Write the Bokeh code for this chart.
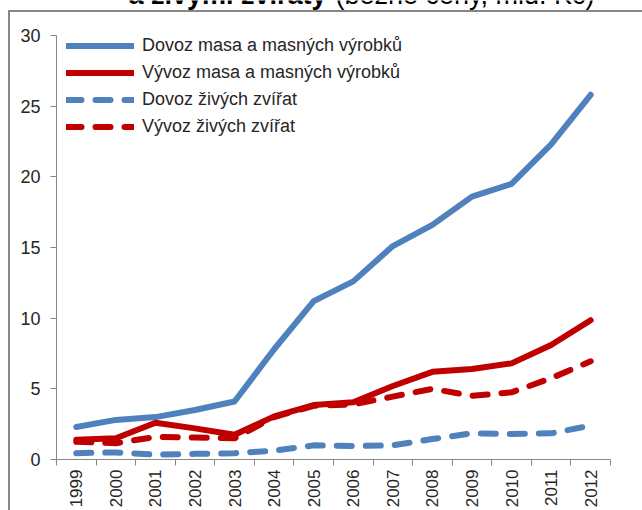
import numpy as np
from bokeh.plotting import figure
from bokeh.models import Range1d, FixedTicker, Legend, LegendItem, Label, InlineStyleSheet
from bokeh.embed import file_html
from bokeh.resources import INLINE

# ---- data (mld. Kč, běžné ceny) ----
years = ["1999", "2000", "2001", "2002", "2003", "2004", "2005",
         "2006", "2007", "2008", "2009", "2010", "2011", "2012"]
dovoz_masa = [2.3, 2.8, 3.0, 3.5, 4.1, 7.8, 11.2, 12.6, 15.1, 16.6, 18.6, 19.5, 22.3, 25.8]
vyvoz_masa = [1.4, 1.5, 2.6, 2.2, 1.75, 3.05, 3.85, 4.05, 5.2, 6.2, 6.4, 6.8, 8.1, 9.85]
dovoz_zvirat = [0.45, 0.5, 0.35, 0.4, 0.45, 0.62, 1.0, 0.95, 1.0, 1.45, 1.85, 1.8, 1.85, 2.4]
vyvoz_zvirat = [1.25, 1.15, 1.6, 1.55, 1.5, 3.0, 3.8, 3.9, 4.45, 5.0, 4.5, 4.75, 5.75, 6.95]
series_names = ["Dovoz masa a masných výrobků", "Vývoz masa a masných výrobků",
                "Dovoz živých zvířat", "Vývoz živých zvířat"]
y_ticks = [0, 5, 10, 15, 20, 25, 30]
title_bold = "a živými zvířaty"
title_rest = "(běžné ceny, mld. Kč)"

BLUE = "#4F81BD"
RED = "#C00000"
GRAY = "#868686"
TXT = "#262626"
FONT = "Liberation Sans"

xs = list(range(len(years)))

# frame border of the (cropped) chart area, drawn with CSS on top of the canvas
frame_css = InlineStyleSheet(css="""
:host { position: relative; }
:host::after {
  content: ""; position: absolute; left: 8px; top: 10px; right: 0; bottom: 0;
  border-left: 2px solid #868686; border-top: 2px solid #868686;
  pointer-events: none; z-index: 10;
}
""")

p = figure(width=642, height=510, output_backend="svg", toolbar_location=None,
           x_range=Range1d(-0.5, 14.31), y_range=Range1d(0, 32.47),
           min_border_left=56, min_border_right=0, min_border_top=0, min_border_bottom=50,
           stylesheets=[frame_css])
p.outline_line_color = None
p.grid.visible = False
p.background_fill_color = "white"
p.border_fill_color = "white"

r1 = p.line(xs, dovoz_masa, line_color=BLUE, line_width=6, line_join="round", line_cap="round")
r2 = p.line(xs, vyvoz_masa, line_color=RED, line_width=6, line_join="round", line_cap="round")
r3 = p.line(xs, dovoz_zvirat, line_color=BLUE, line_width=6, line_join="round", line_cap="round",
            line_dash="15 14")
r4 = p.line(xs, vyvoz_zvirat, line_color=RED, line_width=6, line_join="round", line_cap="round",
            line_dash="15 14")

# x axis: labels at category centres, tick marks between categories
xa = p.xaxis[0]
xa.bounds = (-0.5, len(years) - 0.5)
xa.ticker = FixedTicker(ticks=xs, minor_ticks=[i - 0.5 for i in range(len(years) + 1)])
xa.major_label_overrides = {i: y for i, y in zip(xs, years)}
xa.major_tick_in = 0
xa.major_tick_out = 0
xa.minor_tick_in = 0
xa.minor_tick_out = 6
xa.minor_tick_line_color = GRAY
xa.axis_line_color = GRAY
xa.major_label_orientation = np.pi / 2
xa.major_label_standoff = 4
xa.major_label_text_font = FONT
xa.major_label_text_font_size = "17px"
xa.major_label_text_color = TXT

ya = p.yaxis[0]
ya.bounds = (0, 30)
ya.ticker = FixedTicker(ticks=y_ticks)
ya.major_tick_in = 0
ya.major_tick_out = 6
ya.minor_tick_line_color = None
ya.major_tick_line_color = GRAY
ya.axis_line_color = GRAY
ya.major_label_standoff = 10
ya.major_label_text_font = FONT
ya.major_label_text_font_size = "18px"
ya.major_label_text_color = TXT

legend = Legend(items=[LegendItem(label=series_names[0], renderers=[r1]),
                       LegendItem(label=series_names[1], renderers=[r2]),
                       LegendItem(label=series_names[2], renderers=[r3]),
                       LegendItem(label=series_names[3], renderers=[r4])],
                location=(10, 319), glyph_width=68, glyph_height=27, label_height=27,
                label_standoff=8, padding=0, margin=0, spacing=0,
                border_line_color=None, background_fill_alpha=0,
                label_text_font=FONT, label_text_font_size="18px", label_text_color=TXT)
p.add_layout(legend)

# title (cut off at the top edge, as in the reference crop)
p.add_layout(Label(x=72, y=465, x_units="screen", y_units="screen", text=title_bold,
                   text_font=FONT, text_font_style="bold", text_font_size="27px",
                   text_color="black", text_baseline="alphabetic"))
p.add_layout(Label(x=279, y=465, x_units="screen", y_units="screen", text=title_rest,
                   text_font=FONT, text_font_size="27px",
                   text_color="black", text_baseline="alphabetic"))

open("out.html", "w").write(file_html(p, INLINE))
